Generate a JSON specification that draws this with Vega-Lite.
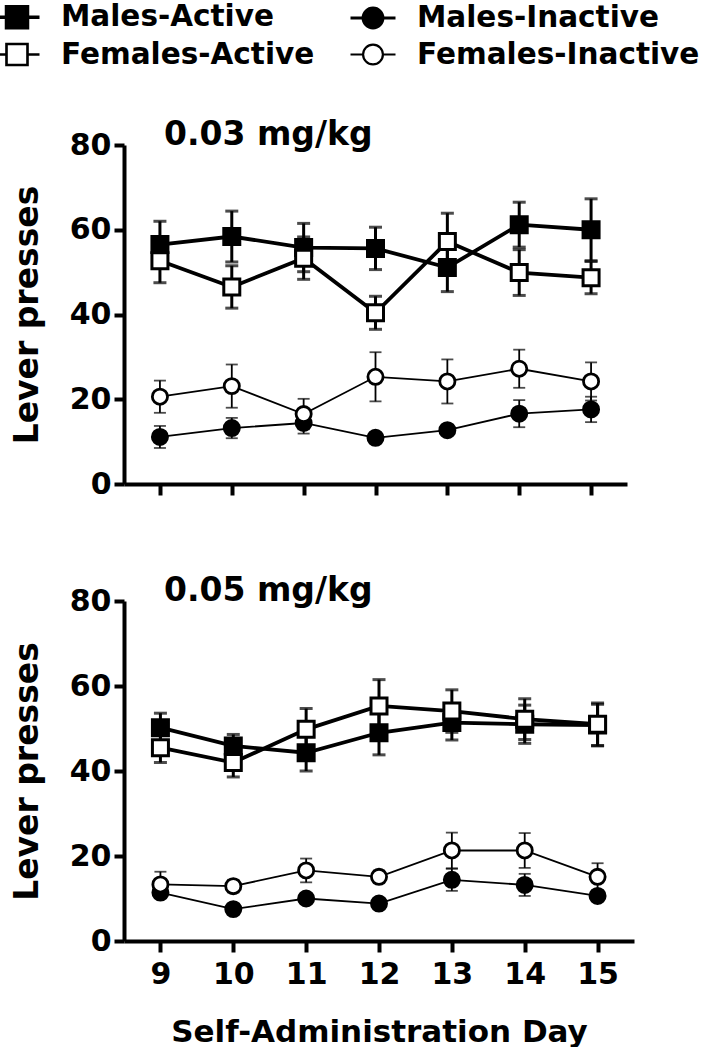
{
  "$schema": "https://vega.github.io/schema/vega-lite/v6.json",
  "background": "white",
  "padding": {"left": 0, "top": 0, "right": 0, "bottom": 0},
  "spacing": 76,
  "datasets": {
    "d": [
      {"dose": "0.03 mg/kg", "day": 9, "group": "Males-Active", "type": "Active", "mean": 56.5, "sem": 5.5},
      {"dose": "0.03 mg/kg", "day": 10, "group": "Males-Active", "type": "Active", "mean": 58.4, "sem": 6.0},
      {"dose": "0.03 mg/kg", "day": 11, "group": "Males-Active", "type": "Active", "mean": 55.8, "sem": 5.7},
      {"dose": "0.03 mg/kg", "day": 12, "group": "Males-Active", "type": "Active", "mean": 55.6, "sem": 5.0},
      {"dose": "0.03 mg/kg", "day": 13, "group": "Males-Active", "type": "Active", "mean": 51.1, "sem": 5.7},
      {"dose": "0.03 mg/kg", "day": 14, "group": "Males-Active", "type": "Active", "mean": 61.2, "sem": 5.3},
      {"dose": "0.03 mg/kg", "day": 15, "group": "Males-Active", "type": "Active", "mean": 60.0, "sem": 7.3},
      {"dose": "0.03 mg/kg", "day": 9, "group": "Males-Inactive", "type": "Inactive", "mean": 11.1, "sem": 2.6},
      {"dose": "0.03 mg/kg", "day": 10, "group": "Males-Inactive", "type": "Inactive", "mean": 13.2, "sem": 2.4},
      {"dose": "0.03 mg/kg", "day": 11, "group": "Males-Inactive", "type": "Inactive", "mean": 14.4, "sem": 2.5},
      {"dose": "0.03 mg/kg", "day": 12, "group": "Males-Inactive", "type": "Inactive", "mean": 10.9, "sem": 1.0},
      {"dose": "0.03 mg/kg", "day": 13, "group": "Males-Inactive", "type": "Inactive", "mean": 12.7, "sem": 1.0},
      {"dose": "0.03 mg/kg", "day": 14, "group": "Males-Inactive", "type": "Inactive", "mean": 16.6, "sem": 3.2},
      {"dose": "0.03 mg/kg", "day": 15, "group": "Males-Inactive", "type": "Inactive", "mean": 17.6, "sem": 3.0},
      {"dose": "0.03 mg/kg", "day": 9, "group": "Females-Active", "type": "Active", "mean": 52.7, "sem": 5.2},
      {"dose": "0.03 mg/kg", "day": 10, "group": "Females-Active", "type": "Active", "mean": 46.5, "sem": 5.0},
      {"dose": "0.03 mg/kg", "day": 11, "group": "Females-Active", "type": "Active", "mean": 53.3, "sem": 5.0},
      {"dose": "0.03 mg/kg", "day": 12, "group": "Females-Active", "type": "Active", "mean": 40.4, "sem": 3.9},
      {"dose": "0.03 mg/kg", "day": 13, "group": "Females-Active", "type": "Active", "mean": 57.2, "sem": 6.7},
      {"dose": "0.03 mg/kg", "day": 14, "group": "Females-Active", "type": "Active", "mean": 49.9, "sem": 5.4},
      {"dose": "0.03 mg/kg", "day": 15, "group": "Females-Active", "type": "Active", "mean": 48.7, "sem": 3.8},
      {"dose": "0.03 mg/kg", "day": 9, "group": "Females-Inactive", "type": "Inactive", "mean": 20.6, "sem": 3.8},
      {"dose": "0.03 mg/kg", "day": 10, "group": "Females-Inactive", "type": "Inactive", "mean": 23.1, "sem": 5.1},
      {"dose": "0.03 mg/kg", "day": 11, "group": "Females-Inactive", "type": "Inactive", "mean": 16.5, "sem": 3.6},
      {"dose": "0.03 mg/kg", "day": 12, "group": "Females-Inactive", "type": "Inactive", "mean": 25.3, "sem": 5.8},
      {"dose": "0.03 mg/kg", "day": 13, "group": "Females-Inactive", "type": "Inactive", "mean": 24.2, "sem": 5.2},
      {"dose": "0.03 mg/kg", "day": 14, "group": "Females-Inactive", "type": "Inactive", "mean": 27.2, "sem": 4.5},
      {"dose": "0.03 mg/kg", "day": 15, "group": "Females-Inactive", "type": "Inactive", "mean": 24.2, "sem": 4.5},
      {"dose": "0.05 mg/kg", "day": 9, "group": "Males-Active", "type": "Active", "mean": 50.2, "sem": 3.4},
      {"dose": "0.05 mg/kg", "day": 10, "group": "Males-Active", "type": "Active", "mean": 45.9, "sem": 2.7},
      {"dose": "0.05 mg/kg", "day": 11, "group": "Males-Active", "type": "Active", "mean": 44.3, "sem": 4.3},
      {"dose": "0.05 mg/kg", "day": 12, "group": "Males-Active", "type": "Active", "mean": 49.0, "sem": 5.2},
      {"dose": "0.05 mg/kg", "day": 13, "group": "Males-Active", "type": "Active", "mean": 51.4, "sem": 4.1},
      {"dose": "0.05 mg/kg", "day": 14, "group": "Males-Active", "type": "Active", "mean": 51.0, "sem": 4.5},
      {"dose": "0.05 mg/kg", "day": 15, "group": "Males-Active", "type": "Active", "mean": 50.8, "sem": 4.9},
      {"dose": "0.05 mg/kg", "day": 9, "group": "Males-Inactive", "type": "Inactive", "mean": 11.4, "sem": 1.0},
      {"dose": "0.05 mg/kg", "day": 10, "group": "Males-Inactive", "type": "Inactive", "mean": 7.5, "sem": 1.0},
      {"dose": "0.05 mg/kg", "day": 11, "group": "Males-Inactive", "type": "Inactive", "mean": 10.0, "sem": 1.0},
      {"dose": "0.05 mg/kg", "day": 12, "group": "Males-Inactive", "type": "Inactive", "mean": 8.8, "sem": 1.0},
      {"dose": "0.05 mg/kg", "day": 13, "group": "Males-Inactive", "type": "Inactive", "mean": 14.4, "sem": 2.6},
      {"dose": "0.05 mg/kg", "day": 14, "group": "Males-Inactive", "type": "Inactive", "mean": 13.2, "sem": 2.6},
      {"dose": "0.05 mg/kg", "day": 15, "group": "Males-Inactive", "type": "Inactive", "mean": 10.6, "sem": 1.0},
      {"dose": "0.05 mg/kg", "day": 9, "group": "Females-Active", "type": "Active", "mean": 45.5, "sem": 3.5},
      {"dose": "0.05 mg/kg", "day": 10, "group": "Females-Active", "type": "Active", "mean": 42.0, "sem": 3.4},
      {"dose": "0.05 mg/kg", "day": 11, "group": "Females-Active", "type": "Active", "mean": 49.8, "sem": 4.9},
      {"dose": "0.05 mg/kg", "day": 12, "group": "Females-Active", "type": "Active", "mean": 55.3, "sem": 6.2},
      {"dose": "0.05 mg/kg", "day": 13, "group": "Females-Active", "type": "Active", "mean": 54.1, "sem": 5.0},
      {"dose": "0.05 mg/kg", "day": 14, "group": "Females-Active", "type": "Active", "mean": 52.2, "sem": 4.8},
      {"dose": "0.05 mg/kg", "day": 15, "group": "Females-Active", "type": "Active", "mean": 51.0, "sem": 5.0},
      {"dose": "0.05 mg/kg", "day": 9, "group": "Females-Inactive", "type": "Inactive", "mean": 13.3, "sem": 3.0},
      {"dose": "0.05 mg/kg", "day": 10, "group": "Females-Inactive", "type": "Inactive", "mean": 12.9, "sem": 1.5},
      {"dose": "0.05 mg/kg", "day": 11, "group": "Females-Inactive", "type": "Inactive", "mean": 16.6, "sem": 2.8},
      {"dose": "0.05 mg/kg", "day": 12, "group": "Females-Inactive", "type": "Inactive", "mean": 15.1, "sem": 1.5},
      {"dose": "0.05 mg/kg", "day": 13, "group": "Females-Inactive", "type": "Inactive", "mean": 21.3, "sem": 4.2},
      {"dose": "0.05 mg/kg", "day": 14, "group": "Females-Inactive", "type": "Inactive", "mean": 21.3, "sem": 4.1},
      {"dose": "0.05 mg/kg", "day": 15, "group": "Females-Inactive", "type": "Inactive", "mean": 15.1, "sem": 3.2}
    ]
  },
  "config": {
    "font": "DejaVu Sans",
    "view": {"stroke": null},
    "axis": {
      "grid": false,
      "domainColor": "black",
      "domainWidth": 4,
      "tickColor": "black",
      "tickWidth": 4,
      "tickSize": 10,
      "labelFont": "DejaVu Sans",
      "labelFontSize": 30,
      "labelFontWeight": "bold",
      "labelColor": "black",
      "titleFont": "DejaVu Sans",
      "titleFontSize": 33,
      "titleFontWeight": "bold",
      "titleColor": "black"
    },
    "title": {
      "anchor": "start",
      "frame": "group",
      "font": "DejaVu Sans",
      "fontSize": 33,
      "fontWeight": "bold",
      "color": "black",
      "offset": 0,
      "dx": 40,
      "dy": 26
    }
  },
  "vconcat": [
    {
      "width": 503,
      "height": 339,
      "title": {"text": "0.03 mg/kg"},
      "data": {"name": "d"},
      "transform": [{"filter": "datum.dose == '0.03 mg/kg'"}],
      "encoding": {
        "x": {"field": "day", "type": "quantitative", "scale": {"domain": [8.5, 15.5], "nice": false, "zero": false},
              "axis": {"values": [9, 10, 11, 12, 13, 14, 15], "labels": false, "title": null, "tickSize": 11}},
        "y": {"field": "mean", "type": "quantitative", "scale": {"domain": [0, 80], "nice": false},
              "axis": {"values": [0, 20, 40, 60, 80], "title": "Lever presses", "labelPadding": 3, "titlePadding": 25}}
      },
      "layer": [
        {"transform": [{"filter": "datum.type == 'Active'"}],
         "mark": {"type": "errorbar", "color": "black", "thickness": 3, "ticks": {"size": 13, "thickness": 3}},
         "encoding": {"yError": {"field": "sem"}}},
        {"transform": [{"filter": "datum.type == 'Inactive'"}],
         "mark": {"type": "errorbar", "color": "black", "thickness": 1.8, "ticks": {"size": 12, "thickness": 1.8}},
         "encoding": {"yError": {"field": "sem"}}},
        {"transform": [{"filter": "datum.type == 'Active'"}],
         "mark": {"type": "line", "color": "black", "strokeWidth": 3.8},
         "encoding": {"detail": {"field": "group"}}},
        {"transform": [{"filter": "datum.type == 'Inactive'"}],
         "mark": {"type": "line", "color": "black", "strokeWidth": 1.8},
         "encoding": {"detail": {"field": "group"}}},
        {"transform": [{"filter": "datum.type == 'Active'"}],
         "mark": {"type": "point", "shape": "square", "filled": true, "stroke": "black", "strokeWidth": 3, "size": 256, "opacity": 1},
         "encoding": {
           "fill": {"field": "group", "type": "nominal",
                    "scale": {"domain": ["Males-Active", "Males-Inactive", "Females-Active", "Females-Inactive"], "range": ["black", "black", "white", "white"]},
                    "legend": {"title": null, "orient": "none", "legendX": -124, "legendY": -145, "columns": 2, "direction": "horizontal",
                               "symbolSize": 900, "labelOffset": 27, "columnPadding": 29, "rowPadding": 3,
                               "labelFont": "DejaVu Sans", "labelFontSize": 29.5, "labelFontWeight": "bold", "labelColor": "black", "labelLimit": 0}}
         }},
        {"transform": [{"filter": "datum.type == 'Inactive'"}],
         "mark": {"type": "point", "shape": "circle", "filled": true, "stroke": "black", "strokeWidth": 2.8, "size": 230, "opacity": 1},
         "encoding": {
           "fill": {"field": "group", "type": "nominal"}
         }},
        {"transform": [{"filter": "false"}],
         "mark": {"type": "point", "filled": true, "opacity": 1},
         "encoding": {
           "shape": {"field": "group", "type": "nominal",
                     "scale": {"domain": ["Males-Active", "Males-Inactive", "Females-Active", "Females-Inactive"],
                               "range": [
                                 "M-1.5,0H1.5M-0.7,-0.7H0.7V0.7H-0.7Z",
                                 "M-1.5,0H1.5M0.66,0C0.66,0.364,0.364,0.66,0,0.66C-0.364,0.66,-0.66,0.364,-0.66,0C-0.66,-0.364,-0.364,-0.66,0,-0.66C0.364,-0.66,0.66,-0.364,0.66,0Z",
                                 "M-1.5,0H-0.7M0.7,0H1.5M-0.7,-0.7H0.7V0.7H-0.7Z",
                                 "M-1.5,0H-0.66M0.66,0H1.5M0.66,0C0.66,0.364,0.364,0.66,0,0.66C-0.364,0.66,-0.66,0.364,-0.66,0C-0.66,-0.364,-0.364,-0.66,0,-0.66C0.364,-0.66,0.66,-0.364,0.66,0Z"
                               ]},
                     "legend": {"title": null, "orient": "none", "legendX": -124, "legendY": -145, "columns": 2, "direction": "horizontal",
                                "symbolSize": 900, "labelOffset": 27, "columnPadding": 29, "rowPadding": 3,
                                "labelFont": "DejaVu Sans", "labelFontSize": 29.5, "labelFontWeight": "bold", "labelColor": "black", "labelLimit": 0}},
           "fill": {"field": "group", "type": "nominal"},
           "stroke": {"field": "group", "type": "nominal",
                      "scale": {"domain": ["Males-Active", "Males-Inactive", "Females-Active", "Females-Inactive"], "range": ["black", "black", "black", "black"]},
                      "legend": {"title": null, "orient": "none", "legendX": -124, "legendY": -145, "columns": 2, "direction": "horizontal",
                                 "symbolSize": 900, "labelOffset": 27, "columnPadding": 29, "rowPadding": 3,
                                 "labelFont": "DejaVu Sans", "labelFontSize": 29.5, "labelFontWeight": "bold", "labelColor": "black", "labelLimit": 0}},
           "strokeWidth": {"field": "group", "type": "nominal",
                      "scale": {"domain": ["Males-Active", "Males-Inactive", "Females-Active", "Females-Inactive"], "range": [3.5, 2.2, 3.5, 2.2]},
                      "legend": {"title": null, "orient": "none", "legendX": -124, "legendY": -145, "columns": 2, "direction": "horizontal",
                                 "symbolSize": 900, "labelOffset": 27, "columnPadding": 29, "rowPadding": 3,
                                 "labelFont": "DejaVu Sans", "labelFontSize": 29.5, "labelFontWeight": "bold", "labelColor": "black", "labelLimit": 0}}
         }}
      ]
    },
    {
      "width": 510,
      "height": 340,
      "title": {"text": "0.05 mg/kg"},
      "data": {"name": "d"},
      "transform": [{"filter": "datum.dose == '0.05 mg/kg'"}],
      "encoding": {
        "x": {"field": "day", "type": "quantitative", "scale": {"domain": [8.5, 15.5], "nice": false, "zero": false},
              "axis": {"values": [9, 10, 11, 12, 13, 14, 15], "title": "Self-Administration Day", "tickSize": 11, "labelPadding": 7, "titlePadding": 28, "titleFontSize": 31}},
        "y": {"field": "mean", "type": "quantitative", "scale": {"domain": [0, 80], "nice": false},
              "axis": {"values": [0, 20, 40, 60, 80], "title": "Lever presses", "labelPadding": 3, "titlePadding": 25}}
      },
      "layer": [
        {"transform": [{"filter": "datum.type == 'Active'"}],
         "mark": {"type": "errorbar", "color": "black", "thickness": 3, "ticks": {"size": 13, "thickness": 3}},
         "encoding": {"yError": {"field": "sem"}}},
        {"transform": [{"filter": "datum.type == 'Inactive'"}],
         "mark": {"type": "errorbar", "color": "black", "thickness": 1.8, "ticks": {"size": 12, "thickness": 1.8}},
         "encoding": {"yError": {"field": "sem"}}},
        {"transform": [{"filter": "datum.type == 'Active'"}],
         "mark": {"type": "line", "color": "black", "strokeWidth": 3.8},
         "encoding": {"detail": {"field": "group"}}},
        {"transform": [{"filter": "datum.type == 'Inactive'"}],
         "mark": {"type": "line", "color": "black", "strokeWidth": 1.8},
         "encoding": {"detail": {"field": "group"}}},
        {"transform": [{"filter": "datum.type == 'Active'"}],
         "mark": {"type": "point", "shape": "square", "filled": true, "stroke": "black", "strokeWidth": 3, "size": 256, "opacity": 1},
         "encoding": {
           "fill": {"field": "group", "type": "nominal"}
         }},
        {"transform": [{"filter": "datum.type == 'Inactive'"}],
         "mark": {"type": "point", "shape": "circle", "filled": true, "stroke": "black", "strokeWidth": 2.8, "size": 230, "opacity": 1},
         "encoding": {
           "fill": {"field": "group", "type": "nominal"}
         }}
      ]
    }
  ]
}
